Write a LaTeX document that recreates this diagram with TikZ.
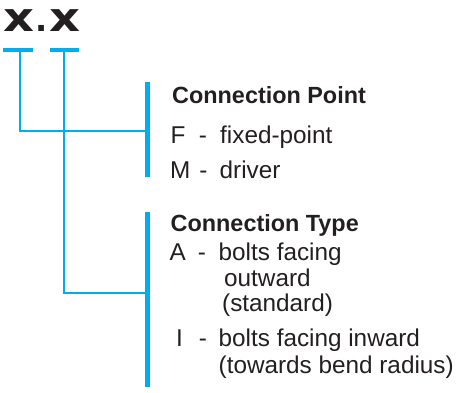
\documentclass[tikz,border=0pt]{standalone}
\usepackage{fontspec}
\setmainfont{Liberation Sans}
\newfontfamily\xfont{DejaVu Sans}
\definecolor{lineblue}{HTML}{00AEEF}
\definecolor{txt}{HTML}{231F20}
\tikzset{
  thinline/.style={draw=lineblue, line width=2.3pt},
  tickbar/.style={fill=lineblue, draw=none, rectangle, inner sep=0pt, minimum height=4.6pt},
  groupbar/.style={fill=lineblue, draw=none, rectangle, inner sep=0pt, minimum width=5pt},
  lbl/.style={anchor=base west, inner sep=0pt, text=txt, font=\fontsize{24.3}{26}\selectfont},
  dashlbl/.style={anchor=base, inner sep=0pt, text=txt, font=\fontsize{24.3}{26}\selectfont},
  head/.style={lbl, font=\fontsize{23.4}{26}\selectfont\bfseries},
  code/.style={anchor=base, inner sep=0pt, text=txt, font=\xfont\bfseries\fontsize{40}{42}\selectfont, xscale=1.2},
  codedot/.style={anchor=base, inner sep=0pt, text=txt, font=\xfont\bfseries\fontsize{32}{34}\selectfont}
}
\begin{document}
\begin{tikzpicture}[x=1pt,y=-1pt]
\useasboundingbox (0,0) rectangle (457,392);
% code letters
\node[code] (c1) at (18.5,31.7) {x};
\node[codedot] (cd) at (41.5,31.7) {.};
\node[code] (c2) at (65.3,31.7) {x};
% tick bars under letters
\node[tickbar, minimum width=30pt] (b1) at (18.3,50) {};
\node[tickbar, minimum width=29pt] (b2) at (64.5,50) {};
% group bars
\node[groupbar, minimum height=95pt] (g1) at (147.3,129.5) {};
\node[groupbar, minimum height=175pt] (g2) at (147.3,299.2) {};
% connectors
\coordinate (s1) at (20,50);
\coordinate (s2) at (64,50);
\coordinate (e1) at (147.3,131);
\coordinate (e2) at (147.3,293.3);
\draw[thinline] (s1) |- (e1);
\draw[thinline] (s2) |- (e2);
% group 1 text
\node[head] (h1) at (172,103) {Connection Point};
\node[lbl] (f) at (170.5,143.3) {F};
\node[dashlbl] (fd) at (203,143.3) {-};
\node[lbl] (ft) at (220,143.3) {fixed-point};
\node[lbl] (m) at (170,178.3) {M};
\node[dashlbl] (md) at (203.5,178.3) {-};
\node[lbl] (mt) at (219.5,178.3) {driver};
% group 2 text
\node[head] (h2) at (170.5,231.7) {Connection Type};
\node[lbl] (a) at (169.5,260) {A};
\node[dashlbl] (ad) at (202,260) {-};
\node[lbl] (at1) at (218.5,260) {bolts facing};
\node[lbl] (at2) at (224,286) {outward};
\node[lbl] (at3) at (222,311.7) {(standard)};
\node[lbl] (i) at (176,346.7) {I};
\node[dashlbl] (id) at (203,346.7) {-};
\node[lbl] (it1) at (218.5,346.7) {bolts facing inward};
\node[lbl] (it2) at (218.5,373.3) {(towards bend radius)};
\end{tikzpicture}
\end{document}
